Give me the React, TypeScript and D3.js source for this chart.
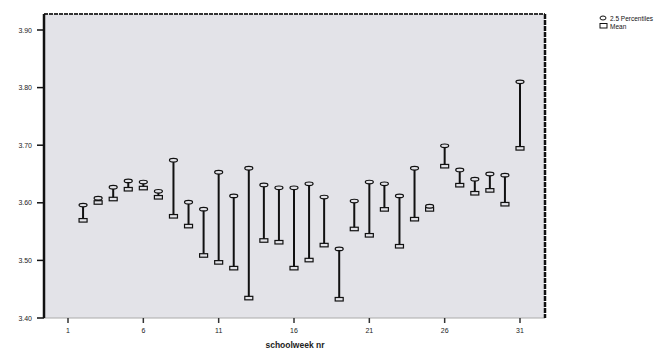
import React from 'react';
import * as d3 from 'd3';

// categories 1..31, label every 5th
const categories = d3.range(1, 32);
const tickLabels = [1, 6, 11, 16, 21, 26, 31];
const yTicks = [3.4, 3.5, 3.6, 3.7, 3.8, 3.9];

// one high/low pair per category (category 1 is empty)
const weeks = [2, 3, 4, 5, 6, 7, 8, 9, 10, 11, 12, 13, 14, 15, 16, 17, 18, 19, 20, 21, 22, 23, 24, 25, 26, 27, 28, 29, 30, 31];
const highs = [3.596, 3.608, 3.627, 3.638, 3.636, 3.62, 3.674, 3.601, 3.589, 3.653, 3.612, 3.66, 3.631, 3.626, 3.626, 3.633, 3.61, 3.52, 3.603, 3.636, 3.633, 3.612, 3.66, 3.594, 3.699, 3.657, 3.641, 3.65, 3.648, 3.81];
const lows = [3.57, 3.601, 3.607, 3.624, 3.626, 3.61, 3.577, 3.56, 3.509, 3.497, 3.487, 3.435, 3.535, 3.532, 3.487, 3.501, 3.527, 3.433, 3.555, 3.544, 3.589, 3.525, 3.572, 3.589, 3.664, 3.631, 3.617, 3.622, 3.598, 3.695];

const legendItems = ['2.5 Percentiles', 'Mean'];

const W = 670, H = 351;
const plot = { left: 44, right: 545, top: 14, bottom: 318 };

export default function App() {
  const x = d3.scaleLinear().domain([1, 31]).range([68, 520]);
  const y = d3.scaleLinear().domain([3.4, 3.9]).range([plot.bottom, 30]);

  return (
    <svg width={W} height={H} style={{ position: 'absolute', left: 0, top: 0, fontFamily: 'Arial, "Liberation Sans", sans-serif' }}>
      <rect x={0} y={0} width={W} height={H} fill="#fff" />
      <rect x={plot.left} y={plot.top} width={plot.right - plot.left} height={plot.bottom - plot.top} fill="#e3e3e8" />
      {/* frame */}
      <line x1={plot.left} x2={plot.right} y1={plot.top} y2={plot.top} stroke="#333" strokeWidth={2} strokeDasharray="4 1" />
      <line x1={plot.left} x2={plot.right} y1={plot.bottom} y2={plot.bottom} stroke="#aaa" strokeWidth={1} />
      <line x1={plot.left} x2={plot.left} y1={plot.top} y2={plot.bottom} stroke="#111" strokeWidth={2.5} />
      <line x1={plot.right} x2={plot.right} y1={plot.top} y2={plot.bottom} stroke="#111" strokeWidth={2.5} strokeDasharray="5 1" />

      {/* y axis */}
      {yTicks.map(t => (
        <g key={t}>
          <line x1={plot.left - 7} x2={plot.left} y1={y(t)} y2={y(t)} stroke="#111" strokeWidth={1.5} />
          <text x={plot.left - 12} y={y(t) + 2.5} fontSize={7} textAnchor="end" fill="#222">{t.toFixed(2)}</text>
        </g>
      ))}

      {/* x axis */}
      {categories.map(c => (
        tickLabels.includes(c) ? (
          <g key={c}>
            <line x1={x(c)} x2={x(c)} y1={plot.bottom} y2={plot.bottom + 5} stroke="#333" strokeWidth={1.5} />
            <text x={x(c)} y={plot.bottom + 15} fontSize={7} textAnchor="middle" fill="#222">{c}</text>
          </g>
        ) : null
      ))}
      <text x={295} y={348} fontSize={8.5} fontWeight="bold" textAnchor="middle" fill="#222">schoolweek nr</text>

      {/* high-low bars */}
      {weeks.map((w, i) => {
        const cx = x(w);
        const yh = y(highs[i]);
        const yl = y(lows[i]);
        return (
          <g key={w}>
            <line x1={cx} x2={cx} y1={yh} y2={yl} stroke="#111" strokeWidth={2} />
            <rect x={cx - 4} y={yl - 1.5} width={8} height={3.5} fill="#e3e3e8" stroke="#111" strokeWidth={1.2} />
            <ellipse cx={cx} cy={yh} rx={4} ry={1.8} fill="#e3e3e8" stroke="#111" strokeWidth={1.2} />
          </g>
        );
      })}

      {/* legend */}
      {legendItems.map((d, i) => (
        <g key={d} transform={`translate(600, ${18 + i * 8})`}>
          {i === 0
            ? <ellipse cx={3} cy={0} rx={3} ry={2} fill="none" stroke="#111" strokeWidth={1} />
            : <rect x={0} y={-2.5} width={7} height={4.5} fill="none" stroke="#111" strokeWidth={1} />}
          <text x={10} y={2.5} fontSize={6.5} fill="#111">{d}</text>
        </g>
      ))}
    </svg>
  );
}
